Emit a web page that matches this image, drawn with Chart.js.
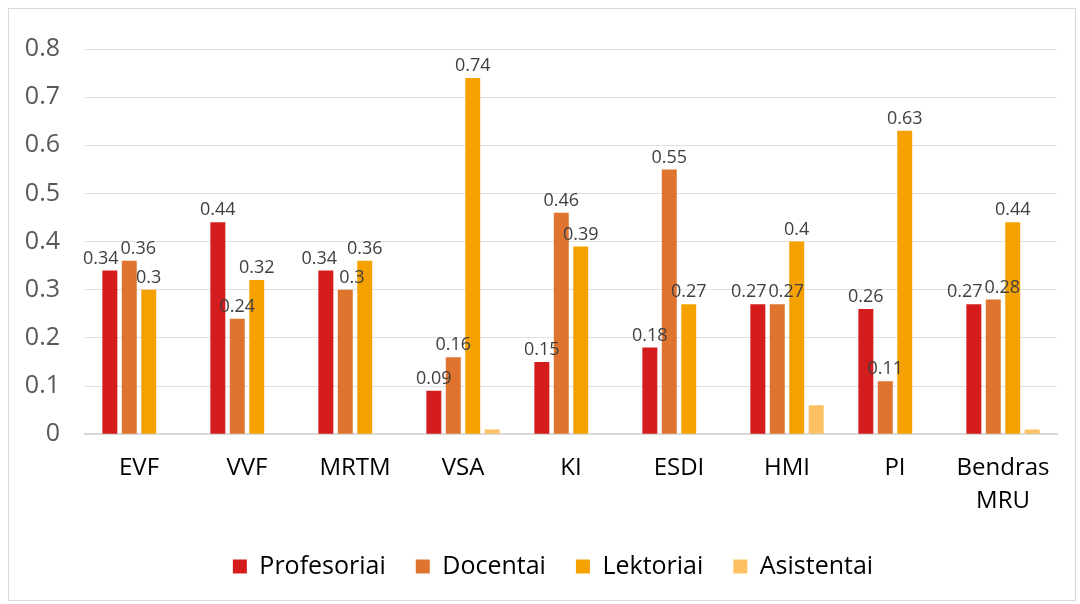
<!DOCTYPE html>
<html>
<head>
<meta charset="utf-8">
<script src="https://cdn.jsdelivr.net/npm/chart.js@4"></script>
<style>
body{margin:0;background:#fff;}
#box{position:absolute;left:8px;top:8px;width:1066px;height:591px;border:1px solid #d9d9d9;}
</style>
</head>
<body>
<div id="box"><canvas id="chart"></canvas></div>
<script>
const categories = ['EVF','VVF','MRTM','VSA','KI','ESDI','HMI','PI',['Bendras','MRU']];
const profesoriai = [0.34,0.44,0.34,0.09,0.15,0.18,0.27,0.26,0.27];
const docentai = [0.36,0.24,0.3,0.16,0.46,0.55,0.27,0.11,0.28];
const lektoriai = [0.3,0.32,0.36,0.74,0.39,0.27,0.4,0.63,0.44];
const asistentai = [0,0,0,0.01,0,0,0.06,0,0.01];

const font = '"Open Sans", sans-serif';

// value labels above the first three series, nudged apart when they collide
const barLabels = {
id:'barLabels',
afterDatasetsDraw(chart){
const ctx = chart.ctx;
ctx.save();
ctx.font = '18px ' + font;
ctx.fillStyle = '#404040';
ctx.textAlign = 'center';
ctx.textBaseline = 'bottom';
const n = chart.data.labels.length;
for(let j=0;j<n;j++){
const items = [];
for(let i=0;i<3;i++){
const bar = chart.getDatasetMeta(i).data[j];
const txt = String(chart.data.datasets[i].data[j]);
items.push({txt, x:bar.x, y:bar.y-3, w:ctx.measureText(txt).width});
}
for(let k=1;k<items.length;k++){
const a = items[k-1], b = items[k];
if(Math.abs(a.y-b.y) < 20){
const overlap = (a.x+a.w/2) - (b.x-b.w/2) + 2;
if(overlap>0){ a.x -= overlap/2; b.x += overlap/2; }
}
}
items.forEach(it=>ctx.fillText(it.txt, it.x, it.y));
}
ctx.restore();
}
};

// nudge the legend a little right, like the original
const legendShift = {
id:'legendShift',
afterLayout(chart){
chart.legend.left += 20;
chart.legend.right += 20;
}
};

new Chart(document.getElementById('chart'),{
type:'bar',
data:{
labels:categories,
datasets:[
{label:'Profesoriai',data:profesoriai,backgroundColor:'#d41c1c'},
{label:'Docentai',data:docentai,backgroundColor:'#df742e'},
{label:'Lektoriai',data:lektoriai,backgroundColor:'#f5a200'},
{label:'Asistentai',data:asistentai,backgroundColor:'#fdc163'}
]
},
options:{
responsive:true,
maintainAspectRatio:false,
animation:false,
layout:{padding:{left:0,right:18,top:-3,bottom:11}},
datasets:{bar:{categoryPercentage:0.72,barPercentage:0.77}},
scales:{
x:{
grid:{display:false},
border:{color:'#d9d9d9',width:2},
ticks:{color:'#000',font:{size:24,family:font,lineHeight:1.35},padding:10},
afterFit(scale){ scale.height -= 3; }
},
y:{
min:0,max:0.8,
ticks:{stepSize:0.1,color:'#595959',font:{size:25,family:font},padding:25,
callback:v=>String(Number(v.toFixed(1)))},
grid:{color:'#e0e0e0',drawTicks:false},
border:{display:false},
afterFit(scale){ scale.width = 76; }
}
},
plugins:{
legend:{
position:'bottom',
labels:{color:'#000',font:{size:25,family:font},boxWidth:14,boxHeight:14,padding:30}
},
tooltip:{enabled:false}
}
},
plugins:[barLabels,legendShift]
});
</script>
</body>
</html>
